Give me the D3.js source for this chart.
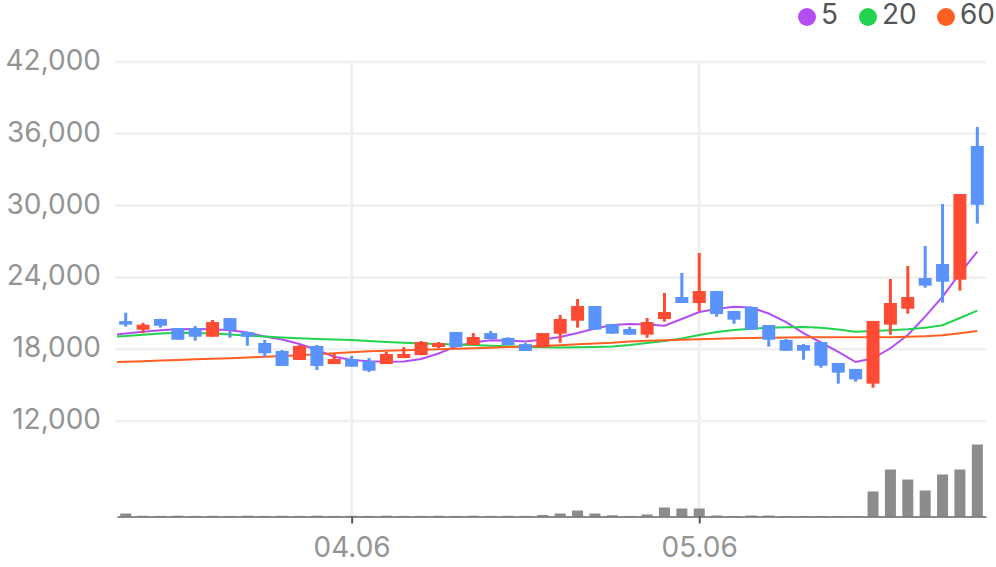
<!DOCTYPE html>
<html>
<head>
<meta charset="utf-8">
<script src="https://cdn.jsdelivr.net/npm/d3@7"></script>
<style>
  html, body { margin: 0; padding: 0; background: #fff; }
  svg { display: block; font-family: Inter, "Noto Sans", sans-serif; }
</style>
</head>
<body>
<svg id="chart" width="996" height="567"></svg>
<script>
// trading days (MM.DD)
var dates = ["03.18","03.19","03.20","03.23","03.24","03.25","03.26","03.27","03.30","03.31",
             "04.01","04.02","04.03","04.06","04.07","04.08","04.09","04.10","04.13","04.14",
             "04.15","04.16","04.17","04.20","04.21","04.22","04.23","04.24","04.27","04.28",
             "04.29","04.30","05.04","05.06","05.07","05.08","05.11","05.12","05.13","05.14",
             "05.15","05.18","05.19","05.20","05.21","05.22","05.26","05.27","05.28","05.29"];

var opens  = [20350,19630,20520,19770,19770,19040,20600,19440,18520,17850,
              17100,18270,16760,17180,17010,16760,17260,17510,18180,19440,
              18350,19350,18940,18430,18150,19300,20380,21610,20100,19690,
              19210,20520,22360,21860,22860,21190,21530,20020,18770,18350,
              18600,16850,16350,15120,20050,21380,23950,25120,23810,34980];
var highs  = [21050,20210,20550,19770,19940,20440,20600,19440,18770,17930,
              18350,18350,17600,17430,17260,17770,18180,18690,18600,19440,
              19350,19520,18990,18520,19350,20860,22190,21610,20100,19860,
              20610,22700,24370,26040,22860,21190,21530,20020,18850,18430,
              18600,16850,16350,20360,23870,24950,26620,30130,30970,36570];
var lows   = [19880,19330,19800,18790,18710,19040,18960,18290,17370,16600,
              17100,16260,16760,16540,16090,16760,17260,17510,18100,18180,
              18350,18850,18350,17850,18150,18540,19800,19630,19300,19210,
              18960,20300,21860,21190,20720,20130,19630,18210,17870,17120,
              16450,15120,15280,14780,19210,20970,23140,21890,22890,28490];
var closes = [20050,20050,19960,18790,19040,20270,19600,19040,17660,16600,
              18270,16600,17180,16540,16200,17600,17600,18600,18520,18180,
              19020,18850,18350,17850,19350,20520,21610,19630,19300,19210,
              20270,21110,21860,22860,20940,20470,19630,18790,17870,17870,
              16620,16040,15480,20360,21860,22360,23310,23640,30970,30070];
var volumes = [300000,70000,60000,80000,60000,70000,60000,80000,60000,70000,
               60000,80000,60000,70000,60000,80000,60000,60000,70000,60000,
               80000,60000,70000,60000,150000,300000,600000,300000,120000,60000,
               200000,900000,800000,800000,100000,50000,100000,100000,50000,50000,
               50000,50000,50000,2500000,4700000,3700000,2600000,4200000,4700000,7200000];

// moving averages, first value belongs to the day before dates[0]
var maStart = -1;
var ma5  = [19140,19310,19460,19580,19660,19690,19660,19580,19400,19060,18810,
            18430,17930,17370,17100,16990,16960,16970,17180,17640,18230,
            18560,18740,18730,18640,18810,19020,19350,19730,20020,20110,
            20060,19960,20520,21110,21360,21550,21480,20980,20270,19350,
            18560,17770,16930,17240,18080,19190,20720,22390,24340,26150];
var ma20 = [19040,19100,19210,19310,19380,19350,19310,19230,19140,19060,18980,
            18910,18850,18810,18770,18690,18600,18530,18480,18430,18390,
            18350,18290,18240,18180,18160,18140,18160,18180,18230,18350,
            18520,18690,18890,19190,19440,19600,19710,19800,19840,19860,
            19800,19650,19450,19520,19590,19660,19790,20000,20610,21220];
var ma60 = [16910,16960,17000,17050,17100,17150,17200,17250,17310,17370,17430,
            17500,17570,17660,17750,17820,17870,17910,17950,17990,18030,
            18080,18130,18180,18230,18280,18330,18410,18480,18540,18640,
            18700,18740,18790,18840,18880,18920,18940,18960,18980,18990,
            18990,18990,18990,18990,19000,19040,19090,19160,19340,19520];

var priceTicks = [12000,18000,24000,30000,36000,42000];
var dateTicks = ["04.06","05.06"];

var maSeries = [
  {name: "5",  values: ma5,  color: "#b44ef2"},
  {name: "20", values: ma20, color: "#22d34f"},
  {name: "60", values: ma60, color: "#ff5f22"}
];

var upColor = "#ff4b33";
var downColor = "#5b93fd";
var gridColor = "#f0f0f0";

function drawChart() {
  var svg = d3.select("#chart");
  var plotLeft = 117, plotRight = 986, plotTop = 62, priceBottom = 421, volBottom = 516.5;

  var x = d3.scaleLinear().domain([-0.5, dates.length - 0.5]).range([plotLeft, plotRight]);
  var y = d3.scaleLinear().domain([12000, 42000]).range([priceBottom, plotTop]);
  var yVol = d3.scaleLinear().domain([0, d3.max(volumes)]).range([volBottom, volBottom - 72]);

  svg.append("clipPath").attr("id", "plot-clip")
    .append("rect").attr("x", plotLeft).attr("y", 0)
    .attr("width", plotRight - plotLeft).attr("height", 567);

  // horizontal gridlines + labels
  var yGrid = svg.append("g").attr("class", "y-grid");
  yGrid.selectAll("line").data(priceTicks).enter().append("line")
    .attr("x1", 115).attr("x2", plotRight)
    .attr("y1", function(d) { return y(d); })
    .attr("y2", function(d) { return y(d); })
    .attr("stroke", gridColor).attr("stroke-width", 2.5);
  yGrid.selectAll("text").data(priceTicks).enter().append("text")
    .attr("x", 101).attr("y", function(d) { return y(d) + 8; })
    .attr("text-anchor", "end")
    .attr("font-size", 28).attr("fill", "#949494")
    .text(function(d) { return d3.format(",")(d); });

  // vertical gridlines at labelled dates
  var tickIdx = dateTicks.map(function(d) { return dates.indexOf(d); });
  svg.append("g").selectAll("line").data(tickIdx).enter().append("line")
    .attr("x1", function(d) { return x(d); })
    .attr("x2", function(d) { return x(d); })
    .attr("y1", plotTop - 1).attr("y2", volBottom)
    .attr("stroke", gridColor).attr("stroke-width", 3);

  // volume
  svg.append("g").selectAll("rect").data(volumes).enter().append("rect")
    .attr("x", function(d, i) { return x(i) - 5.5; })
    .attr("width", 11)
    .attr("y", function(d) { return yVol(d); })
    .attr("height", function(d) { return volBottom - yVol(d); })
    .attr("fill", "#8c8c8c");

  // bottom axis
  var xAxis = d3.axisBottom(x)
    .tickValues(tickIdx)
    .tickFormat(function(i) { return dates[i]; })
    .tickSize(7)
    .tickSizeOuter(0)
    .tickPadding(14);
  var gx = svg.append("g").attr("transform", "translate(0," + volBottom + ")").call(xAxis);
  gx.select(".domain").attr("stroke", "#666").attr("stroke-width", 1.5);
  gx.selectAll(".tick line").attr("stroke", "#555").attr("stroke-width", 2);
  gx.selectAll(".tick text").attr("font-size", 28).attr("fill", "#949494")
    .attr("font-family", "Inter, 'Noto Sans', sans-serif");

  // moving average lines
  var line = d3.line()
    .x(function(d, i) { return x(i + maStart); })
    .y(function(d) { return y(d); });
  svg.append("g").attr("clip-path", "url(#plot-clip)")
    .selectAll("path").data(maSeries).enter().append("path")
    .attr("d", function(s) { return line(s.values); })
    .attr("fill", "none")
    .attr("stroke", function(s) { return s.color; })
    .attr("stroke-width", 2);

  // candles
  var candle = svg.append("g").selectAll("g").data(dates).enter().append("g");
  candle.append("rect")
    .attr("x", function(d, i) { return x(i) - 1.5; })
    .attr("width", 3)
    .attr("y", function(d, i) { return y(highs[i]); })
    .attr("height", function(d, i) { return y(lows[i]) - y(highs[i]); })
    .attr("fill", function(d, i) { return closes[i] >= opens[i] ? upColor : downColor; });
  candle.append("rect")
    .attr("x", function(d, i) { return x(i) - 6.5; })
    .attr("width", 13)
    .attr("y", function(d, i) { return y(Math.max(opens[i], closes[i])); })
    .attr("height", function(d, i) { return Math.max(1, Math.abs(y(opens[i]) - y(closes[i]))); })
    .attr("fill", function(d, i) { return closes[i] >= opens[i] ? upColor : downColor; });

  // legend
  var legendX = [807, 868, 946];
  var legend = svg.append("g").selectAll("g").data(maSeries).enter().append("g")
    .attr("transform", function(d, i) { return "translate(" + legendX[i] + ",17)"; });
  legend.append("circle").attr("r", 9).attr("fill", function(d) { return d.color; });
  legend.append("text")
    .attr("x", 14).attr("y", 6.5)
    .attr("font-size", 28).attr("fill", "#555")
    .text(function(d) { return d.name; });
}

drawChart();
</script>
</body>
</html>
